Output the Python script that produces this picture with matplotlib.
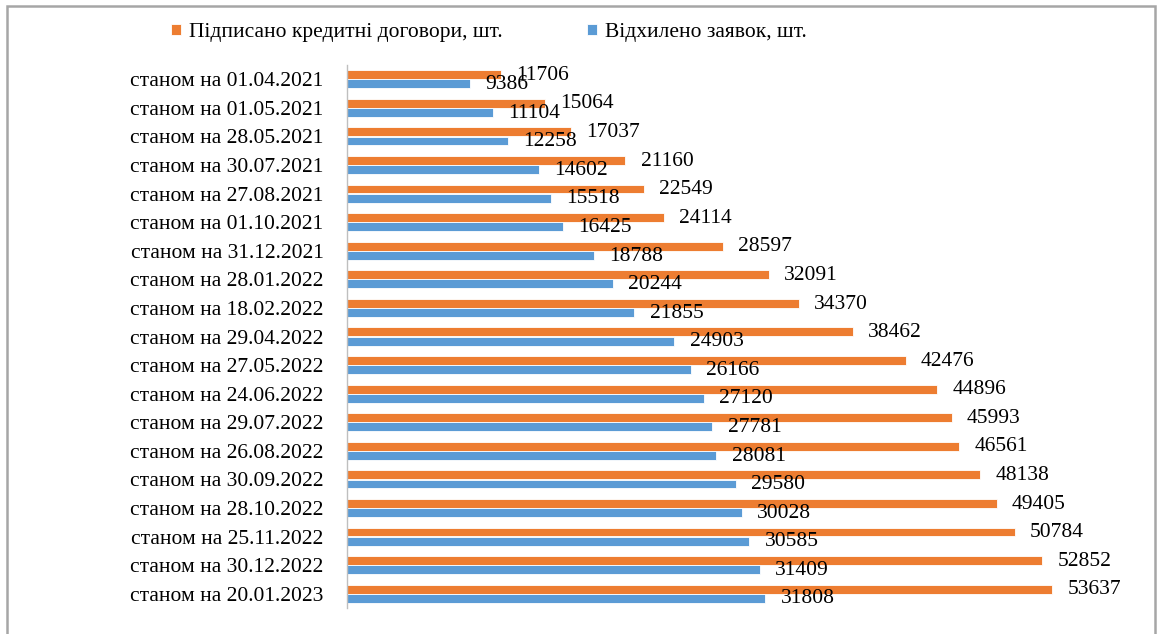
import numpy as np
import matplotlib
matplotlib.use('Agg')
import matplotlib.pyplot as plt
from matplotlib.patches import Rectangle

# dados
dates = ["01.04.2021", "01.05.2021", "28.05.2021", "30.07.2021", "27.08.2021",
         "01.10.2021", "31.12.2021", "28.01.2022", "18.02.2022", "29.04.2022",
         "27.05.2022", "24.06.2022", "29.07.2022", "26.08.2022", "30.09.2022",
         "28.10.2022", "25.11.2022", "30.12.2022", "20.01.2023"]
signed = [11706, 15064, 17037, 21160, 22549, 24114, 28597, 32091, 34370, 38462,
          42476, 44896, 45993, 46561, 48138, 49405, 50784, 52852, 53637]
rejected = [9386, 11104, 12258, 14602, 15518, 16425, 18788, 20244, 21855, 24903,
            26166, 27120, 27781, 28081, 29580, 30028, 30585, 31409, 31808]
labels = ["станом на " + d for d in dates]
signed_name = "Підписано кредитні договори, шт."
rejected_name = "Відхилено заявок, шт."

ORANGE = "#ED7D31"
BLUE = "#5B9BD5"
FS = 15.5

plt.rcParams['font.family'] = ['Liberation Serif', 'DejaVu Serif']

fig = plt.figure(figsize=(11.6, 6.34), dpi=100)
ax = fig.add_axes([347 / 1160, 1 - 608 / 634, (1136 - 347) / 1160, (608 - 65) / 634])

y = np.arange(len(dates))
h = 0.31
b1 = ax.barh(y - 0.16, signed, height=h, color=ORANGE, edgecolor='white', linewidth=0.6,
             label=signed_name)
b2 = ax.barh(y + 0.16, rejected, height=h, color=BLUE, edgecolor='white', linewidth=0.6,
             label=rejected_name)

# rotulos de valor no fim de cada barra
for bars, vals in ((b1, signed), (b2, rejected)):
    for rect, v in zip(bars, vals):
        ax.annotate(str(v), (rect.get_width(), rect.get_y() + rect.get_height() / 2),
                    xytext=(11, -0.5), textcoords='offset points',
                    ha='left', va='center', fontsize=FS, color='black')

ax.set_xlim(0, 60000)
ax.set_ylim(len(dates) - 0.5, -0.5)
ax.set_yticks(y)
ax.set_yticklabels(labels, fontsize=FS)
ax.tick_params(axis='y', length=0, pad=17)
ax.set_xticks([])
for side in ('top', 'right', 'bottom'):
    ax.spines[side].set_visible(False)
ax.spines['left'].set_color('#BFBFBF')
ax.spines['left'].set_linewidth(1.0)
ax.patch.set_alpha(0)

fig.legend(handles=[b1, b2], loc='center', bbox_to_anchor=(489 / 1160, 1 - 32.5 / 634),
           ncol=2, frameon=False, fontsize=FS, handlelength=0.45, handleheight=0.45,
           handletextpad=0.4, columnspacing=3.9)

# moldura cinza do grafico
fig.add_artist(Rectangle((7 / 1160, -0.05), (1155 - 7) / 1160, 1.05 - 6 / 634,
                         transform=fig.transFigure, fill=False,
                         edgecolor='#A6A6A6', linewidth=1.8))

fig.savefig("out.png", dpi=100)
plt.close(fig)
